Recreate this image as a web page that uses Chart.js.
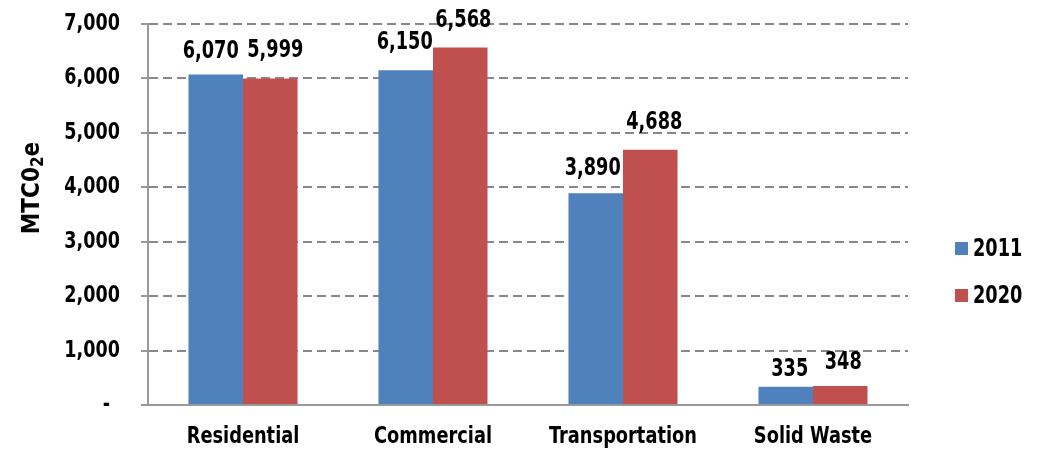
<!DOCTYPE html>
<html>
<head>
<meta charset="utf-8">
<script src="https://cdn.jsdelivr.net/npm/chart.js@4"></script>
<style>
  html, body { margin: 0; padding: 0; background: #fff; }
  #wrap { width: 1040px; height: 450px; }
</style>
</head>
<body>
<div id="wrap"><canvas id="chart" width="1040" height="450"></canvas></div>
<script>
const categories = ["Residential", "Commercial", "Transportation", "Solid Waste"];
const seriesNames = ["2011", "2020"];
const values2011 = [6070, 6150, 3890, 335];
const values2020 = [5999, 6568, 4688, 348];
const yTicks = [0, 1000, 2000, 3000, 4000, 5000, 6000, 7000];

const FONT = "'DejaVu Sans Condensed', 'Liberation Sans Narrow', sans-serif";
const colors = ["#4F81BD", "#C0504D"];

// label placement as in the original (Excel nudged some by hand)
const labelLift = [[17, 21, 18, 11], [21, 21, 21, 17]];
const labelShift = [[-5, -1, -3, 4], [5, 3, 4, 3]];

const fmt = (v) => v.toLocaleString("en-US");

// draw bold text squeezed horizontally to mimic a condensed face
function squeezed(ctx, text, x, y, size, align, base, sx) {
  ctx.save();
  ctx.translate(x, y);
  ctx.scale(sx, 1);
  ctx.font = "bold " + size + "px " + FONT;
  ctx.textAlign = align;
  ctx.textBaseline = base;
  ctx.fillStyle = "#000";
  ctx.fillText(text, 0, 0);
  ctx.restore();
}

const extras = {
  id: "extras",
  afterDatasetsDraw(chart) {
    const ctx = chart.ctx;
    chart.data.datasets.forEach((ds, di) => {
      chart.getDatasetMeta(di).data.forEach((bar, i) => {
        squeezed(ctx, fmt(ds.data[i]), bar.x + labelShift[di][i], bar.y - labelLift[di][i],
          24, "center", "alphabetic", 0.82);
      });
    });
  },
  afterDraw(chart) {
    const ctx = chart.ctx;
    const ys = chart.scales.y, xs = chart.scales.x;

    // y tick labels
    yTicks.forEach((v) => {
      const py = ys.getPixelForValue(v);
      if (v === 0) squeezed(ctx, "-", 110, py, 23, "right", "middle", 0.85);
      else squeezed(ctx, fmt(v), 120, py, 23, "right", "middle", 0.85);
    });

    // x tick labels
    categories.forEach((c, i) => {
      squeezed(ctx, c, xs.getPixelForValue(i), 443, 23, "center", "alphabetic", 0.86);
    });

    // y axis title with subscript
    ctx.save();
    ctx.translate(33, 188);
    ctx.rotate(-Math.PI / 2);
    ctx.fillStyle = "#000";
    ctx.textBaseline = "middle";
    ctx.textAlign = "left";
    const big = "bold 24px " + FONT, small = "bold 17px " + FONT;
    ctx.font = big;
    const w1 = ctx.measureText("MTC0").width;
    const w3 = ctx.measureText("e").width;
    ctx.font = small;
    const w2 = ctx.measureText("2").width;
    let x = -(w1 + w2 + w3) / 2;
    ctx.font = big;
    ctx.fillText("MTC0", x, 0);
    x += w1;
    ctx.font = small;
    ctx.fillText("2", x, 6);
    x += w2;
    ctx.font = big;
    ctx.fillText("e", x, 0);
    ctx.restore();

    // legend
    const boxTop = [242, 289];
    chart.data.datasets.forEach((ds, di) => {
      ctx.fillStyle = ds.backgroundColor;
      ctx.fillRect(955, boxTop[di], 13, 13);
      squeezed(ctx, ds.label, 973, boxTop[di] + 14, 24, "left", "alphabetic", 0.82);
    });
  }
};

new Chart(document.getElementById("chart"), {
  type: "bar",
  data: {
    labels: categories,
    datasets: [
      { label: seriesNames[0], data: values2011, backgroundColor: colors[0] },
      { label: seriesNames[1], data: values2020, backgroundColor: colors[1] }
    ]
  },
  options: {
    responsive: false,
    animation: false,
    devicePixelRatio: 1,
    layout: { padding: { left: 0, right: 132, top: 24, bottom: 0 } },
    plugins: { legend: { display: false }, tooltip: { enabled: false } },
    datasets: { bar: { categoryPercentage: 0.574, barPercentage: 1.0, borderWidth: 0 } },
    scales: {
      x: {
        grid: { display: false },
        border: { display: true, color: "#999", width: 2 },
        ticks: { display: false },
        afterFit(s) { s.height = 45; }
      },
      y: {
        min: 0,
        max: 7000,
        afterBuildTicks(s) { s.ticks = yTicks.map((v) => ({ value: v })); },
        grid: {
          color: "#888",
          lineWidth: 2,
          tickLength: 7,
          tickColor: "#999",
          tickWidth: 2,
          tickBorderDash: []
        },
        border: { display: true, color: "#999", width: 2, dash: [9, 5] },
        ticks: { display: false },
        afterFit(s) { s.width = 148; }
      }
    }
  },
  plugins: [extras]
});
</script>
</body>
</html>
